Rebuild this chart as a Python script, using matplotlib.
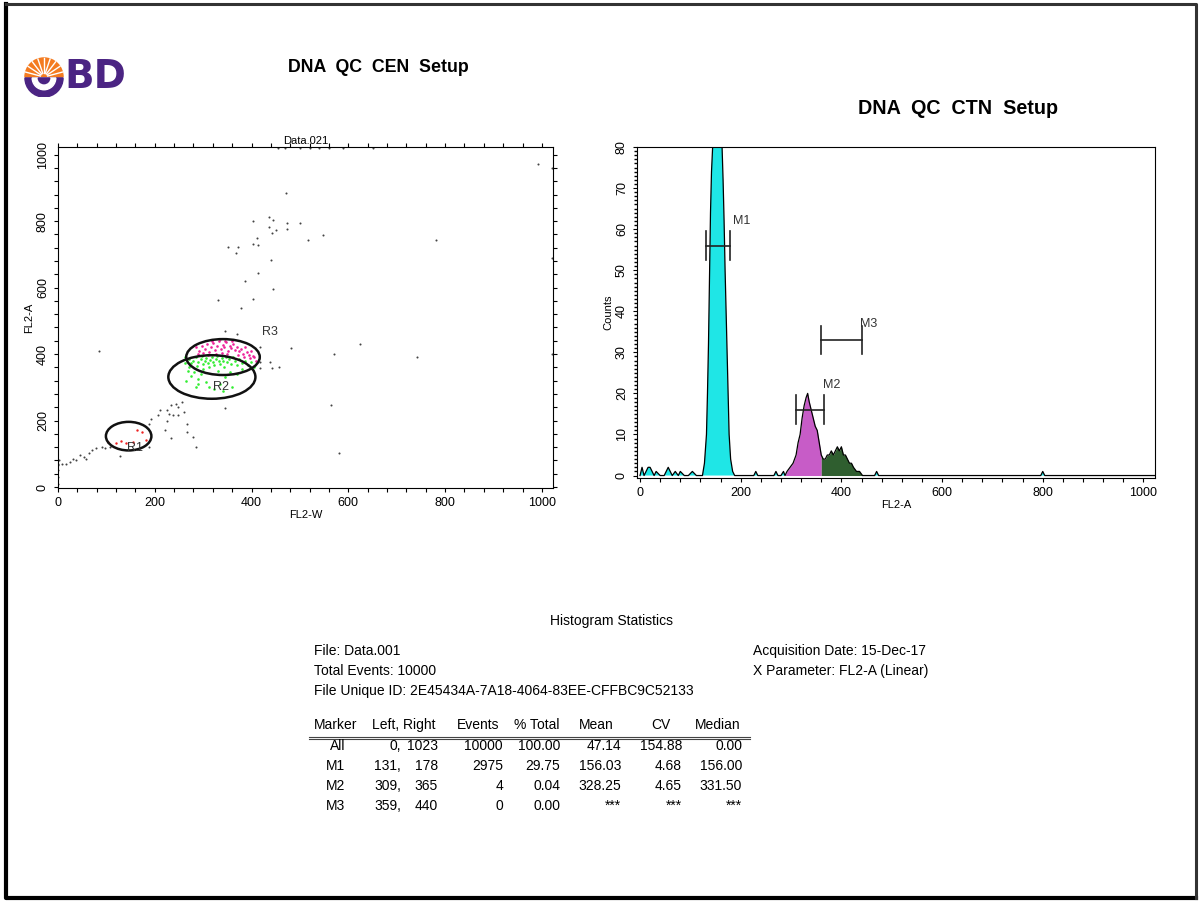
import numpy as np
import matplotlib.pyplot as plt
from matplotlib.patches import Ellipse, Rectangle, Wedge
from matplotlib.ticker import MultipleLocator

plt.rcParams['font.family'] = ['Liberation Sans', 'DejaVu Sans']

# ---- scatter data (FL2-W, FL2-A) ----
gray_x = [992, 472, 404, 437, 444, 437, 451, 443, 473, 473, 501, 516, 548, 781,
          352, 371, 367, 402, 411, 413, 440, 413, 386, 445, 331, 402, 378,
          85, 346, 370, 418, 481, 625, 570, 741, 418, 439, 443, 457, 417,
          346, 564, 581, 244, 257, 248, 234, 266, 261, 211, 207, 229, 226,
          193, 189, 222, 233, 266, 279, 286, 226, 237, 248,
          71, 79, 64, 53, 38, 24, 9, 1, 31, 46, 57, 90, 97, 128, 108, 16, 189,
          0, 0, 0, 0, 2, 455, 470, 500, 520, 540, 560, 590, 650, 1020, 1020, 1020]
gray_y = [972, 884, 799, 812, 804, 782, 774, 764, 794, 777, 794, 742, 757, 742,
          722, 722, 705, 731, 749, 727, 683, 643, 621, 596, 563, 566, 538,
          409, 469, 459, 420, 417, 429, 399, 390, 377, 377, 357, 360, 357,
          239, 246, 103, 251, 256, 241, 246, 191, 226, 231, 216, 221, 198,
          206, 191, 171, 146, 164, 151, 119, 231, 216, 216,
          111, 116, 101, 90, 80, 75, 70, 65, 85, 95, 85, 121, 118, 93, 121, 70, 121,
          10, 30, 50, 70, 80, 1020, 1020, 1020, 1020, 1020, 1020, 1020, 1020, 960, 690, 400]

red_x = [163, 174, 181, 119, 130, 141, 104, 156]
red_y = [171, 166, 141, 131, 138, 131, 136, 136]

green_x = [262, 270, 275, 280, 285, 288, 290, 295, 298, 300, 303, 306, 310, 312,
           315, 318, 320, 323, 326, 329, 332, 335, 338, 341, 344, 347, 350, 354,
           358, 362, 366, 370, 375, 380, 386, 392, 398, 405,
           268, 275, 282, 290, 296, 305, 312, 322, 335, 345, 360, 370, 285, 265,
           300, 330, 355, 380, 290, 340, 262, 270]
green_y = [390, 385, 372, 380, 390, 365, 375, 385, 395, 370, 380, 388, 372, 360,
           383, 392, 375, 366, 385, 395, 378, 370, 388, 380, 360, 392, 375, 384,
           370, 390, 378, 366, 385, 372, 380, 368, 376, 360,
           350, 335, 345, 325, 340, 315, 300, 295, 310, 330, 300, 340, 300, 320,
           355, 350, 345, 355, 310, 290, 372, 360]

pink_x = [285, 292, 298, 304, 308, 312, 316, 320, 324, 328, 332, 336, 340, 344,
          348, 352, 355, 358, 362, 366, 370, 374, 378, 382, 386, 390, 394, 398,
          402, 406, 410, 300, 310, 326, 338, 350, 346, 360, 318, 372, 384, 396,
          334, 290]
pink_y = [420, 410, 425, 415, 430, 405, 420, 432, 412, 424, 438, 415, 428, 420,
          435, 410, 425, 418, 430, 412, 422, 408, 415, 400, 420, 405, 398, 410,
          395, 390, 380, 402, 398, 400, 402, 400, 440, 440, 440, 398, 392, 388,
          445, 400]

# gates: name, centre x, centre y, width, height, label x, label y
gate_names = ['R1', 'R2', 'R3']
gate_cx = [146, 318, 341]
gate_cy = [153, 331, 391]
gate_w = [94, 180, 152]
gate_h = [86, 131, 108]
gate_lx = [160, 336, 439]
gate_ly = [116, 301, 467]

# ---- histogram data (FL2-A channel, counts) ----
hist_x = [0, 4, 8, 12, 16, 20, 24, 28, 32, 40, 48, 52, 56, 60, 64, 70, 76, 80, 88, 96,
          104, 112, 120, 124, 128, 132, 134, 136, 138, 140, 142, 145, 148, 152, 156,
          160, 163, 165, 167, 169, 171, 173, 175, 177, 180, 184, 188, 200, 226, 230,
          234, 266, 270, 274, 280, 285, 288, 292, 298, 304, 310, 314, 318, 322, 326,
          330, 333, 336, 340, 344, 348, 352, 356, 360, 364, 368, 372, 376, 380, 384,
          388, 392, 396, 400, 404, 408, 412, 416, 420, 424, 430, 436, 442, 466, 470,
          474, 796, 800, 804, 1023]
hist_y = [0, 2, 0, 1, 2, 2, 1, 0, 1, 0, 0, 1, 2, 1, 0, 1, 0, 1, 0, 0,
          1, 0, 0, 0, 3, 10, 20, 32, 48, 64, 74, 82, 88, 95, 94,
          88, 80, 72, 62, 50, 40, 30, 20, 10, 4, 1, 0, 0, 0, 1,
          0, 0, 1, 0, 0, 1, 0, 1, 2, 3, 5, 8, 10, 14, 17,
          19, 20, 18, 16, 14, 12, 11, 8, 5, 4, 4, 5, 5, 6, 5,
          6, 7, 6, 7, 5, 5, 4, 3, 3, 2, 1, 1, 0, 0, 1,
          0, 0, 1, 0, 0]

# ---- histogram statistics table ----
stat_markers = ['All', 'M1', 'M2', 'M3']
stat_left = [0, 131, 309, 359]
stat_right = [1023, 178, 365, 440]
stat_events = [10000, 2975, 4, 0]
stat_pct = ['100.00', '29.75', '0.04', '0.00']
stat_mean = ['47.14', '156.03', '328.25', '***']
stat_cv = ['154.88', '4.68', '4.65', '***']
stat_median = ['0.00', '156.00', '331.50', '***']
marker_y = [None, 56, 16, 33]
marker_lbl = [None, (185, 62), (364, 22), (436, 37)]

W, H = 1200, 905
fig = plt.figure(figsize=(12, 9.05), dpi=100)


def fx(x):
    return x / W


def fy(y):
    return 1 - y / H


# page frame: heavy left/bottom, lighter top/right
fig.lines.append(plt.Line2D([fx(6), fx(6), fx(1196)], [fy(4), fy(898), fy(898)],
                            transform=fig.transFigure, color='black', lw=3))
fig.lines.append(plt.Line2D([fx(6), fx(1196), fx(1196)], [fy(4), fy(4), fy(898)],
                            transform=fig.transFigure, color='#333333', lw=2.2))

# BD logo
lax = fig.add_axes([fx(24), fy(97), fx(40), 40 / H])
lax.set_xlim(-1.05, 1.05)
lax.set_ylim(-1.05, 1.05)
lax.set_aspect('equal')
lax.axis('off')
lax.add_patch(Wedge((0, 0), 1.0, 0, 180, color='#f47b20'))
for a in np.linspace(15, 165, 9):
    t = np.radians(a)
    lax.plot([0.2 * np.cos(t), np.cos(t)], [0.2 * np.sin(t), np.sin(t)], color='white', lw=1.0)
lax.add_patch(Wedge((0, 0), 0.35, 0, 180, color='#f47b20'))
lax.add_patch(Wedge((0, -0.05), 1.0, 180, 360, color='#4b2483'))
lax.add_patch(Wedge((0, -0.05), 0.62, 180, 360, color='white'))
lax.add_patch(Wedge((0, -0.05), 0.3, 180, 360, color='#4b2483'))
fig.text(fx(64), fy(77), 'BD', fontsize=28, fontweight='bold', color='#4b2483',
         family='DejaVu Sans', va='center', ha='left')

fig.text(fx(378), fy(68), 'DNA  QC  CEN  Setup', fontsize=12.8, fontweight='bold',
         ha='center', va='center')
fig.text(fx(958), fy(108), 'DNA  QC  CTN  Setup', fontsize=14.2, fontweight='bold',
         ha='center', va='center')

# ---- left: dot plot ----
ax1 = fig.add_axes([fx(58), fy(488), fx(495), 341 / H])
ax1.scatter(gray_x, gray_y, s=2.2, c='#444444', lw=0)
ax1.scatter(red_x, red_y, s=3, c='#ee2222', lw=0)
ax1.scatter(green_x, green_y, s=3.5, c='#33ee33', lw=0)
ax1.scatter(pink_x, pink_y, s=3.5, c='#ee2299', lw=0)
for n, cx, cy, w, h, lx, ly in zip(gate_names, gate_cx, gate_cy, gate_w, gate_h, gate_lx, gate_ly):
    ax1.add_patch(Ellipse((cx, cy), w, h, fill=False, ec='#111111', lw=1.8))
    ax1.text(lx, ly, n, fontsize=9, color='#333333', ha='center', va='center')
ax1.set_xlim(0, 1023)
ax1.set_ylim(-3, 1023)
ax1.set_xticks([0, 200, 400, 600, 800, 1000])
ax1.set_yticks([0, 200, 400, 600, 800, 1000])
ax1.xaxis.set_minor_locator(MultipleLocator(40))
ax1.yaxis.set_minor_locator(MultipleLocator(40))
ax1.tick_params(axis='both', which='both', labelsize=9, length=3, width=0.8,
                top=True, right=True, direction='out')
ax1.tick_params(axis='y', labelrotation=90)
for lb in ax1.get_yticklabels():
    lb.set_va('center')
ax1.set_xlabel('FL2-W', fontsize=8, labelpad=1)
ax1.set_ylabel('FL2-A', fontsize=8, labelpad=2)
ax1.set_title('Data.021', fontsize=8, pad=2)
for s in ax1.spines.values():
    s.set_linewidth(0.8)

# ---- right: histogram ----
ax2 = fig.add_axes([fx(637), fy(478), fx(518), 331 / H])
hx = np.array(hist_x)
hy = np.array(hist_y)
is_pink = (hx >= 288) & (hx <= 362)
is_green = (hx >= 360) & (hx <= 445)
is_cyan = ~(is_pink | is_green) | (hx == 288) | (hx == 445)
ax2.fill_between(hx, 0, hy, where=is_cyan, color='#1fe6e6', lw=0)
ax2.fill_between(hx, 0, hy, where=is_pink, color='#c75cc7', lw=0)
ax2.fill_between(hx, 0, hy, where=is_green, color='#2f5e2f', lw=0)
ax2.plot(hx, hy, color='black', lw=0.9)
for i in range(1, 4):
    y = marker_y[i]
    ax2.plot([stat_left[i], stat_right[i]], [y, y], color='#222222', lw=1.2)
    ax2.plot([stat_left[i]] * 2, [y - 3.5, y + 3.5], color='#222222', lw=1.2)
    ax2.plot([stat_right[i]] * 2, [y - 3.5, y + 3.5], color='#222222', lw=1.2)
    ax2.text(marker_lbl[i][0], marker_lbl[i][1], stat_markers[i], fontsize=9,
             color='#333333', ha='left', va='center')
ax2.set_xlim(-6, 1023)
ax2.set_ylim(-0.6, 80)
ax2.set_xticks([0, 200, 400, 600, 800, 1000])
ax2.set_yticks(range(0, 81, 10))
ax2.xaxis.set_minor_locator(MultipleLocator(40))
ax2.yaxis.set_minor_locator(MultipleLocator(1))
ax2.tick_params(axis='both', which='both', labelsize=9, length=3, width=0.8,
                direction='out')
ax2.tick_params(axis='y', which='minor', length=2, width=1)
ax2.tick_params(axis='y', labelrotation=90)
for lb in ax2.get_yticklabels():
    lb.set_va('center')
ax2.set_xlabel('FL2-A', fontsize=8, labelpad=1)
ax2.set_ylabel('Counts', fontsize=8, labelpad=2)
for s in ax2.spines.values():
    s.set_linewidth(0.8)

# ---- statistics block ----
fs = 10
fig.text(fx(612), fy(625), 'Histogram Statistics', fontsize=fs, ha='center', va='baseline')
fig.text(fx(314), fy(655), 'File: Data.001', fontsize=fs, va='baseline')
fig.text(fx(314), fy(675), 'Total Events: 10000', fontsize=fs, va='baseline')
fig.text(fx(314), fy(695), 'File Unique ID: 2E45434A-7A18-4064-83EE-CFFBC9C52133',
         fontsize=fs, va='baseline')
fig.text(fx(753), fy(655), 'Acquisition Date: 15-Dec-17', fontsize=fs, va='baseline')
fig.text(fx(753), fy(675), 'X Parameter: FL2-A (Linear)', fontsize=fs, va='baseline')

headers = ['Marker', 'Left, Right', 'Events', '% Total', 'Mean', 'CV', 'Median']
head_x = [314, 372, 457, 514, 579, 651, 695]
for h, x in zip(headers, head_x):
    fig.text(fx(x), fy(729), h, fontsize=fs, va='baseline')
fig.lines.append(plt.Line2D([fx(309), fx(750)], [fy(736.5), fy(736.5)],
                            transform=fig.transFigure, color='#444444', lw=0.8))
fig.lines.append(plt.Line2D([fx(309), fx(750)], [fy(739), fy(739)],
                            transform=fig.transFigure, color='#444444', lw=0.8))
col_right = [345, 401, 438, 503, 560, 621, 682, 742]
for r in range(4):
    y = fy(750 + 20 * r)
    vals = [stat_markers[r], f'{stat_left[r]},', str(stat_right[r]), str(stat_events[r]),
            stat_pct[r], stat_mean[r], stat_cv[r], stat_median[r]]
    for v, x in zip(vals, col_right):
        fig.text(fx(x), y, v, fontsize=fs, ha='right', va='baseline')

plt.savefig('out.png', dpi=100)
